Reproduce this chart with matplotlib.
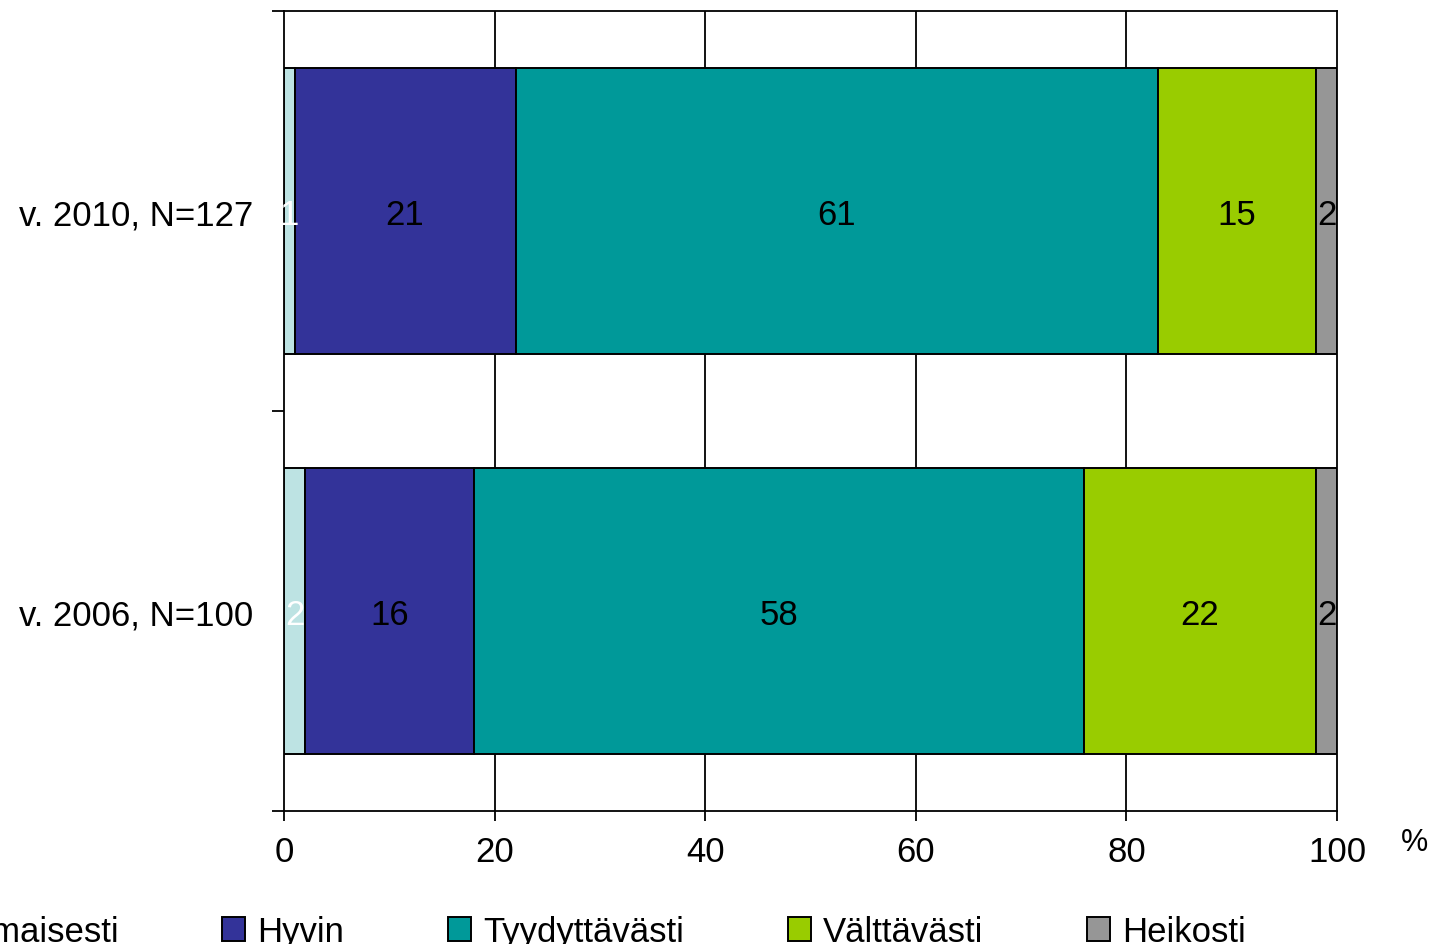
import matplotlib
matplotlib.use('Agg')
import matplotlib.pyplot as plt
import numpy as np

# Data
categories = ['v. 2006, N=100', 'v. 2010, N=127']
series_names = ['Erinomaisesti', 'Hyvin', 'Tyydyttävästi', 'Välttävästi', 'Heikosti']
values = {
    'Erinomaisesti': [2, 1],
    'Hyvin': [16, 21],
    'Tyydyttävästi': [58, 61],
    'Välttävästi': [22, 15],
    'Heikosti': [2, 2],
}
colors = ['#BDE3E3', '#333399', '#009999', '#99CC00', '#969696']
label_colors = ['white', 'black', 'black', 'black', 'black']
xticks = [0, 20, 40, 60, 80, 100]

plt.rcParams['font.family'] = ['Liberation Sans', 'DejaVu Sans']
fs = 25

fig = plt.figure(figsize=(14.35, 9.45), dpi=100)
ax = fig.add_axes([284 / 1435, 1 - 812 / 945, (1337 - 284) / 1435, 800 / 945])

ypos = np.arange(len(categories))
left = np.zeros(len(categories))
handles = []
for name, col, lcol in zip(series_names, colors, label_colors):
    vals = np.array(values[name], dtype=float)
    bars = ax.barh(ypos, vals, left=left, height=0.715, color=col,
                   edgecolor='black', linewidth=1.4, zorder=3, label=name)
    handles.append(bars)
    for y, l, v in zip(ypos, left, vals):
        ax.text(l + v / 2, y, '{:g}'.format(v), ha='center',
                va='center_baseline', fontsize=fs, color=lcol, zorder=4)
    left += vals

ax.set_xlim(0, 100)
ax.set_ylim(-0.5, 1.5)

# vertical grid lines behind bars
for x in xticks[1:-1]:
    ax.axvline(x, color='black', linewidth=1.3, zorder=1)

ax.set_xticks(xticks)
ax.set_xticklabels([str(t) for t in xticks], fontsize=fs)
ax.tick_params(axis='x', direction='out', length=7, width=1.3, pad=10)

# category boundary ticks, labels centred on bars
ax.set_yticks([-0.5, 0.5, 1.5])
ax.set_yticklabels([])
ax.tick_params(axis='y', which='major', direction='out', length=8.5, width=1.3)
ax.set_yticks(ypos, minor=True)
ax.set_yticklabels(categories, minor=True, fontsize=fs)
ax.tick_params(axis='y', which='minor', length=0, pad=22)

for s in ax.spines.values():
    s.set_linewidth(1.3)
    s.set_color('black')

fig.text(1415 / 1435, 1 - 843 / 945, '%', fontsize=22, ha='center', va='center')

fig.legend(handles=handles, labels=series_names, loc='center right', ncol=5,
           bbox_to_anchor=(1277 / 1435, 0.013), frameon=False, fontsize=fs,
           handlelength=0.65, handleheight=0.65, handletextpad=0.35,
           columnspacing=3.0)

fig.savefig('out.png', dpi=100)
